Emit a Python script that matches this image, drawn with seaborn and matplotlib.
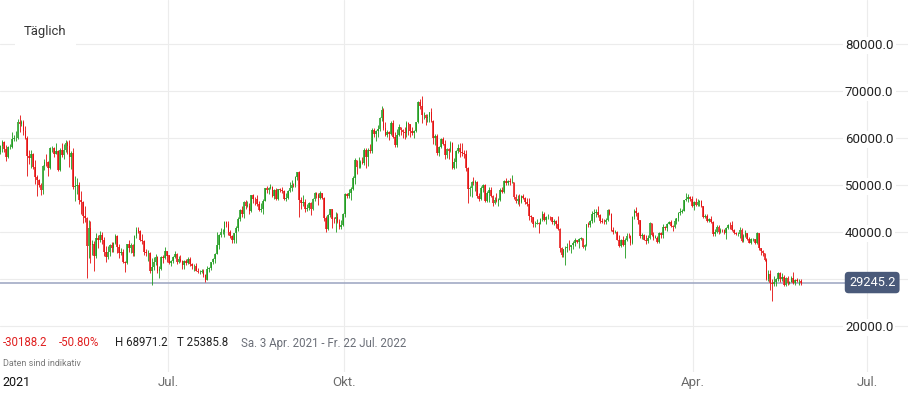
import numpy as np
import pandas as pd
import matplotlib
matplotlib.use('Agg')
import matplotlib.pyplot as plt
import matplotlib.dates as mdates
import matplotlib.transforms as mtransforms
import seaborn as sns

###################################################################################
# Daily candles (values in thousands), Sa. 3 Apr. 2021 onwards
first_open = 59.4334

close_k = [
    # Apr 2021
    57.1, 58.2, 59.1, 57.6, 56.0, 58.1, 58.1, 59.8, 59.9, 59.9, 63.5, 62.9, 63.3, 61.5, 60.0, 56.2, 55.7, 56.5, 53.8, 51.7,
    51.1, 50.1, 49.0, 54.0, 55.0, 54.8, 53.6, 57.8,
    # May 2021
    57.8, 56.6, 57.2, 53.2, 57.5, 56.4, 57.4, 58.9, 58.3, 55.9, 56.8, 49.5, 49.7, 49.9, 46.8, 46.4, 43.5, 42.9, 37.0, 40.8,
    37.3, 37.5, 34.8, 38.8, 38.3, 39.3, 38.4, 35.7, 34.6, 35.7, 37.3,
    # Jun 2021
    36.7, 37.6, 39.2, 36.9, 35.5, 35.8, 33.6, 33.4, 37.4, 36.7, 37.3, 35.5, 39.1, 40.5, 40.2, 38.3, 38.1, 35.8, 35.5, 35.6,
    31.7, 32.5, 33.7, 34.7, 31.6, 32.2, 34.7, 34.5, 35.9, 35.0,
    # Jul 2021
    33.5, 33.8, 34.7, 35.3, 33.7, 34.2, 33.9, 32.9, 33.8, 33.5, 34.2, 33.1, 32.7, 32.8, 31.8, 31.4, 31.5, 31.8, 30.8, 29.8,
    32.1, 32.3, 33.6, 34.3, 35.4, 37.3, 39.4, 40.0, 40.0, 42.2, 41.6,
    # Aug 2021
    39.9, 39.2, 38.2, 39.7, 40.9, 42.8, 44.6, 43.8, 46.3, 45.6, 45.6, 44.4, 47.8, 47.1, 47.0, 45.9, 44.7, 44.8, 46.7, 49.3,
    48.9, 49.3, 49.5, 47.7, 48.9, 47.0, 49.1, 48.9, 48.8, 47.0, 47.2,
    # Sep 2021
    48.8, 49.3, 50.0, 49.9, 51.8, 52.7, 46.8, 46.1, 46.4, 44.9, 45.2, 46.1, 44.9, 47.1, 48.2, 47.8, 47.3, 48.3, 47.3, 43.0,
    40.7, 43.6, 44.9, 42.8, 42.7, 43.2, 42.2, 41.0, 41.5, 43.8,
    # Oct 2021
    48.1, 47.7, 48.2, 49.1, 51.5, 55.3, 53.8, 53.9, 54.9, 54.7, 57.5, 56.0, 57.4, 57.3, 61.7, 60.9, 61.5, 62.0, 64.3, 66.0,
    62.2, 60.7, 61.3, 60.9, 63.2, 60.3, 58.5, 60.6, 62.3, 61.8, 61.3,
    # Nov 2021
    61.0, 63.2, 62.9, 61.4, 61.0, 61.5, 63.3, 67.6, 66.9, 64.9, 64.9, 64.2, 64.4, 65.5, 63.6, 60.1, 60.4, 56.9, 58.1, 59.7,
    58.7, 56.3, 57.6, 57.2, 58.9, 53.6, 54.8, 57.3, 57.8, 57.0,
    # Dec 2021
    56.9, 56.5, 53.6, 49.2, 49.4, 50.6, 50.5, 50.6, 47.6, 47.1, 49.4, 50.1, 46.7, 48.4, 48.9, 47.6, 46.2, 46.8, 46.7, 46.9,
    49.0, 48.6, 50.8, 50.4, 50.8, 50.6, 50.6, 47.5, 46.5, 47.1, 46.3,
    # Jan 2022
    47.7, 47.3, 46.4, 45.9, 43.5, 43.1, 41.6, 41.8, 41.9, 41.8, 42.7, 43.9, 42.6, 43.1, 43.2, 43.1, 42.2, 42.4, 41.7, 40.7,
    36.5, 35.1, 36.3, 36.7, 36.9, 36.8, 37.2, 37.7, 38.2, 37.9, 38.5,
    # Feb 2022
    38.7, 36.9, 37.3, 41.6, 41.4, 42.4, 43.8, 44.1, 44.3, 43.6, 42.4, 42.2, 42.1, 42.6, 44.6, 43.9, 40.5, 40.0, 40.1, 38.4,
    37.0, 38.3, 37.3, 38.3, 39.2, 39.1, 37.7, 43.2,
    # Mar 2022
    44.4, 44.0, 42.5, 39.1, 39.4, 38.4, 38.0, 38.7, 41.9, 39.4, 38.8, 38.8, 37.8, 39.7, 39.3, 41.1, 40.9, 41.8, 42.2, 41.3,
    41.0, 42.4, 42.9, 44.0, 44.3, 44.5, 46.8, 47.1, 47.5, 47.1, 45.5,
    # Apr 2022
    46.3, 45.8, 46.4, 46.6, 45.5, 43.2, 43.4, 42.3, 42.8, 42.2, 39.5, 40.1, 41.1, 39.9, 40.5, 40.4, 39.7, 40.8, 41.5, 41.4,
    40.5, 39.7, 39.5, 39.5, 40.4, 38.1, 39.2, 39.7, 38.6, 37.7,
    # May 2022
    38.5, 38.5, 37.7, 39.7, 36.6, 36.0, 35.5, 34.1, 30.1, 31.0, 29.1, 29.0, 29.3, 29.9, 31.3, 29.9, 30.4, 28.7, 30.3, 29.2,
    29.4, 30.3, 29.1, 29.7, 29.5, 29.6, 29.2452,
]

# wick length above the body
upper_k = [
    .4, .3, .4, .3, .9, .1, .7, 1.5, .8, 1.5, .6, 1.3, .5, .5, 1.0, .4, 1.3, 1.0, .3, 1.5, .4, .1, .4, .3, .6, 1.6, .4, .2,
    .5, .2, 1.8, .3, .4, 1.4, 1.3, .6, .4, 1.3, .5, 1.1, 2.2, 1.6, .8, 2.0, .3, 2.0, .2, 1.8, 1.6, .8, .6, .9, .5, 1.0, .8, .5, 1.4, 1.3, .2,
    .6, .3, .4, .1, .6, .7, .5, .3, .1, .9, .4, .2, .2, .5, .5, .2, 1.2, .1, .6, .5, .1, 1.9, 1.0, .6, .2, .6, .2, .4, .9, .1,
    .1, .2, .3, .7, .2, .8, .9, .1, .3, .5, .4, .4, .2, .3, .5, .6, .5, .3, .3, .2, .7, .3, .1, .2, .1, 2.7, .2, .9, .6, .1, .2,
    .7, .6, .2, .1, .3, .4, .2, .9, .2, .5, 1.0, .6, .1, .3, .3, .8, .8, 1.4, .3, .1, .5, .2, .7, .3, .3, .4, .1, .2, .7, .2, 1.0,
    .1, 1.3, 1.0, .5, .1, .1, .2, .6, 1.5, .6, .8, .3, .3, .2, .3, .3, .4, .5, .1, .1, .5, .2, .1, .1, .4, 1.0, .9, .5, 1.1, .2,
    .2, .3, .9, .4, .4, .4, .1, 2.1, .4, 1.1, .3, .3, .4, 1.4, .5, .5, .3, .7, .2, .9, .3, 1.1, .3, .2, .5, .6, .9, 1.4, .6, .1, .2,
    1.1, .5, .3, .1, .9, .3, .1, .2, .8, 2.07, .7, .2, .6, .1, .8, .2, .4, .5, .3, .4, .5, .8, .3, .2, .5, .2, .9, .2, .9, 1.2,
    2.0, .5, .9, .3, .4, .3, 1.0, .5, .2, .7, .3, .2, .2, .3, .6, .6, .3, .7, 1.6, .3, .4, .6, .3, .6, .3, .6, 1.6, .1, .6, .8, 1.0,
    .2, .3, .2, .9, 1.4, .1, .1, .6, .8, .2, .3, .6, .3, .3, .6, .3, .1, .3, .2, 1.7, .1, .4, .1, .3, .8, 1.4, .1, .4, .5, .2, .3,
    .2, .1, .2, .2, .5, .1, .7, .9, .5, 1.2, .3, .6, .5, .3, .2, .2, .1, .5, .4, .1, 1.0, .2, .9, .4, .5, .6, .3, .2,
    .5, 1.0, .2, .1, .3, .2, .9, .7, .3, .1, .6, .5, .3, .2, .2, .5, .1, .2, .2, .3, .2, .6, .1, .3, .8, .3, .1, 1.1, .5, .1, .5,
    .3, .9, .6, .3, .3, .1, .5, .5, .2, .6, .1, .6, .4, .4, .4, .2, .2, .3, .2, .7, .9, .2, .2, .4, .7, .4, .3, .7, .1, .4,
    .2, .3, .1, .3, .1, .1, .1, .1, .3, 1.0, 1.0, 1.0, 1.3, .4, .2, .1, .8, .4, .2, .4, .2, .3, 1.1, .2, .6, .5, .4,
]

# wick length below the body
lower_k = [
    .3, .6, 1.2, .5, .9, .3, .4, .3, .5, .5, .2, 1.6, .3, .9, .3, 4.2, 1.2, 2.0, .3, 1.4, 3.5, .6, 1.2, .9, .8, .8, 1.7, .2,
    .8, .6, .1, .2, .2, .5, .8, .4, 1.7, 2.0, 2.5, .4, 3.0, 1.6, .8, 2.6, 1.5, .7, 6.8, 2.5, 4.0, 2.2, 3.2, .3, 1.8, .5, .9, .8, 1.0, .4, .8,
    .9, .9, .2, 1.3, 1.0, .3, .2, 1.9, .2, 1.0, 1.1, .6, .6, .3, .4, .2, .7, .6, .5, 1.6, .4, 2.9, .6, .8, .3, 1.4, .3, 1.0, .3, 1.3,
    .4, .8, .4, .3, .5, .2, .2, .8, .8, .5, .3, .4, .5, .9, .2, .2, .3, .3, .3, .5, .1, .6, .3, .5, .9, .1, 1.0, .5, .5, 1.0, .6,
    .5, .4, .5, .6, 2.1, .6, .5, .6, .8, .6, .2, .6, .2, .9, 1.2, .3, .3, .5, .9, .2, .6, .8, .2, .2, .6, .2, .2, .3, .6, .2, .3,
    .2, .3, .5, .4, .3, .7, 3.6, 1.1, .5, .7, .5, .6, 1.2, .3, .5, .6, 1.6, .2, .3, .7, .8, .3, .4, 2.0, .7, 2.7, .2, .3, .3, .2,
    .6, .5, .4, 1.3, .2, 1.3, 1.4, .2, .2, .3, .4, 2.3, 2.0, .5, .4, .7, 1.5, 1.3, .6, .6, .4, .3, .5, 1.4, .3, .2, .4, .5, .2, 1.2, 1.4,
    1.2, .7, 2.3, 1.1, .4, 1.0, .2, .1, .8, 1.7, .8, 1.4, .8, 1.0, .2, 1.3, 1.6, .6, .7, .2, .2, .7, .6, 1.6, .2, .3, .3, 1.2, .4, 1.0,
    .8, .8, .6, 3.0, 1.5, 2.0, .4, 1.7, .3, .4, .3, .9, .4, .3, 2.0, .1, .6, .3, .3, 1.2, .2, .2, .3, .3, .4, .7, .2, .5, .3, .5, .7,
    .1, .3, .5, .3, 1.0, 1.0, .5, .6, .2, 2.1, .2, .4, .3, .8, .3, .6, .6, .8, .8, .2, .8, .5, .4, 3.4, .9, .6, 1.2, .8, .6, .3, 1.3,
    .3, .3, .7, .2, .3, .3, .4, 1.7, .9, .4, .5, .3, .4, .5, .2, .3, .2, .5, .3, .2, .2, .1, .3, 2.9, .2, .3, .4, .3,
    .4, .6, .7, .3, .5, .1, .6, .3, .1, .2, .6, .1, .2, .2, .5, .5, .4, .7, .1, .2, .7, .2, .8, .5, .3, .2, .1, .3, .7, .6, .1,
    .9, .3, .2, .9, .1, .2, .3, .2, .2, .3, .3, .4, .4, .3, .1, .3, .2, 1.1, .1, .7, .3, .2, .2, .3, .7, .2, .3, .3, .4, .1,
    .3, .5, .3, .2, .4, .9, .7, .3, .3, .6, 1.4, 3.6, .5, .7, .3, .5, .3, .1, .1, .5, .2, .1, .2, .4, .2, .8, .6,
]

month_ticks = ['2021-07-01', '2021-10-01', '2022-04-01', '2022-07-01']
month_labels = ['Jul.', 'Okt.', 'Apr.', 'Jul.']
y_ticks = [20000, 30000, 40000, 50000, 60000, 70000, 80000]

stats = [('-30188.2', '#e02020'), ('-50.80%', '#e02020'), ('H 68971.2', '#222222'),
         ('T 25385.8', '#222222'), ('Sa. 3 Apr. 2021 - Fr. 22 Jul. 2022', '#6b6f78')]
stats_x = [3, 59, 115, 177, 241]

###################################################################################
# OHLC frame

close = np.array(close_k) * 1000
open_ = np.concatenate([[first_open * 1000], close[:-1]])
high = np.maximum(open_, close) + np.array(upper_k) * 1000
low = np.minimum(open_, close) - np.array(lower_k) * 1000
dates = pd.date_range('2021-04-03', periods=len(close), freq='D')
df = pd.DataFrame({'date': dates, 'open': open_, 'high': high, 'low': low, 'close': close})
df['x'] = mdates.date2num(df['date']) + 0.5
df['up'] = df['close'] >= df['open']

###################################################################################
# Plot

sns.set_theme(style='white')
plt.rcParams['font.family'] = ['Roboto', 'DejaVu Sans']

W, H = 908, 394
fig = plt.figure(figsize=(W / 100, H / 100), dpi=100)
ax = fig.add_axes([0, 22 / H, 1, 372 / H])

colors = np.where(df['up'], '#1c9a1c', '#e30b0b')
body_colors = np.where(df['up'], '#4fb24f', '#ec4545')
body = np.maximum((df['close'] - df['open']).abs(), 60)
ax.bar(df['x'], body, bottom=np.minimum(df['open'], df['close']), width=0.85,
       color=body_colors, linewidth=0, zorder=2)
ax.vlines(df['x'], df['low'], df['high'], colors=colors, linewidth=0.6, zorder=2)

last = df['close'].iloc[-1]
ax.axhline(last, xmin=0, xmax=845 / W, color='#9aa3c0', lw=1.1, zorder=1.5)

jul21 = mdates.date2num(pd.Timestamp('2021-07-01'))
ppd = (867 - 168) / 365
ax.set_xlim(jul21 - 168 / ppd, jul21 + (W - 168) / ppd)
ax.set_ylim(20000 - (372 - 326) / 47 * 10000, 80000 + 44 / 47 * 10000)

ax.set_xticks(mdates.date2num(pd.to_datetime(month_ticks)))
ax.set_xticklabels(month_labels)
ax.set_yticks(y_ticks)
# the 30000 label sits under the price box
ax.set_yticklabels(['' if v == 30000 else f'{v:.1f}' for v in y_ticks])
ax.yaxis.tick_right()
ax.tick_params(axis='y', length=0, pad=-45.4, labelsize=9.5, labelcolor='#222222')
ax.tick_params(axis='x', length=0, pad=3, labelsize=9.5, labelcolor='#6b6b6b')
for lab in ax.get_yticklabels():
    lab.set_bbox(dict(facecolor='white', edgecolor='none', pad=1.5))

ax.set_axisbelow(True)
ax.grid(True, color='#ececec', lw=0.8)
sns.despine(ax=ax, left=True, bottom=True, right=True, top=True)

trans = mtransforms.blended_transform_factory(ax.transAxes, ax.transData)
ax.text(849 / W, last, f'{last:.1f}', transform=trans, ha='left', va='center',
        fontsize=9.2, color='white', zorder=6,
        bbox=dict(boxstyle='round,pad=0.33,rounding_size=0.3', fc='#4a5a7a', ec='none'))

def px(x, y):
    return x / W, 1 - y / H

fig.text(*px(24, 32), 'Täglich', ha='left', va='center', fontsize=9.4, color='#333333',
         bbox=dict(facecolor='white', edgecolor='none', pad=6.5))
for (txt, col), xp in zip(stats, stats_x):
    fig.text(*px(xp, 343), txt, ha='left', va='center', fontsize=8.3, color=col)
fig.text(*px(3, 363), 'Daten sind indikativ', ha='left', va='center', fontsize=6.5, color='#7a7a7a')
fig.text(*px(2, 383), '2021', ha='left', va='center', fontsize=9, color='#111111')

fig.savefig('out.png', dpi=100)
